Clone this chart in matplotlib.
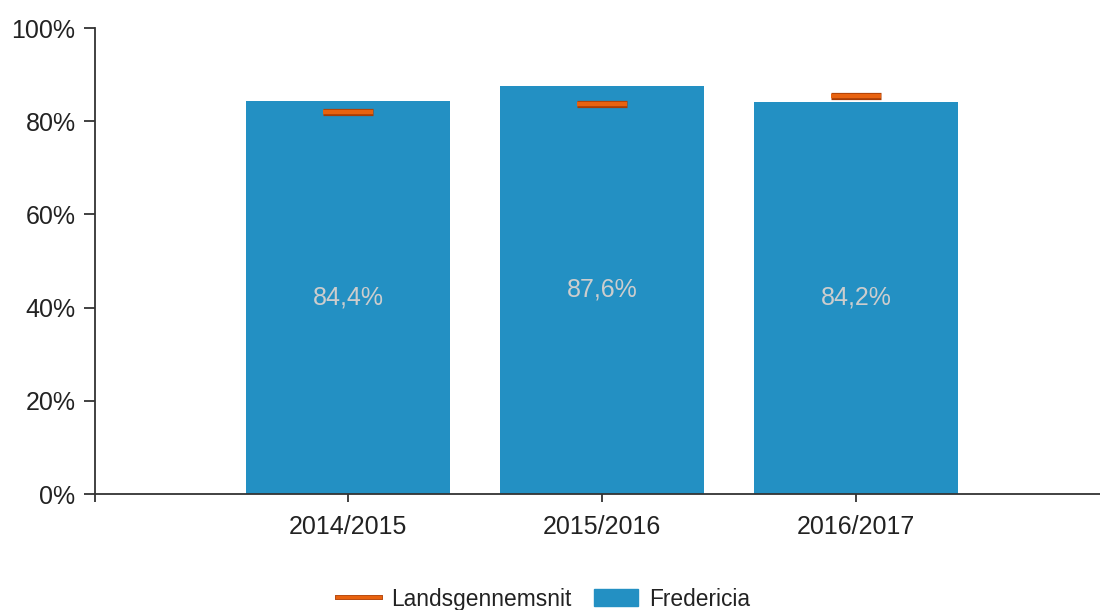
import matplotlib
matplotlib.use("Agg")
import matplotlib.pyplot as plt
import matplotlib.patheffects as pe
from matplotlib.lines import Line2D
from matplotlib.patches import Patch

categories = ["2014/2015", "2015/2016", "2016/2017"]
fredericia = [84.4, 87.6, 84.2]
landsgennemsnit = [81.9, 83.6, 85.4]
bar_labels = ["84,4%", "87,6%", "84,2%"]
yticks = [0, 20, 40, 60, 80, 100]
ytick_labels = ["0%", "20%", "40%", "60%", "80%", "100%"]

plt.rcParams['font.family'] = ['Liberation Sans', 'DejaVu Sans']

BLUE = "#2390c3"
ORANGE = "#e8620f"
DARK = "#a63c05"
TXT = "#222222"

fig = plt.figure(figsize=(11, 6.1), dpi=100)
ax = fig.add_axes([95/1100, (610-494)/610, 1005/1100, 466/610])

x = list(range(len(categories)))
ax.bar(x, fredericia, width=0.8, color=BLUE, zorder=2)

for xi, v, lab in zip(x, fredericia, bar_labels):
    ax.text(xi, v/2, lab, ha='center', va='center', color='#cdcdcd', fontsize=18, zorder=3)

hw = 0.098
for xi, v in zip(x, landsgennemsnit):
    ax.hlines(v, xi - hw, xi + hw, colors=ORANGE, linewidth=3.2, zorder=4,
              path_effects=[pe.Stroke(linewidth=5.2, foreground=DARK), pe.Normal()])

ax.set_xlim(-0.996, 2.96)
ax.set_ylim(0, 100)
ax.set_yticks(yticks)
ax.set_yticklabels(ytick_labels, fontsize=18, color=TXT)
ax.set_xticks(x)
ax.set_xticklabels(categories, fontsize=18, color=TXT)
ax.set_xticks([-0.996], minor=True)
ax.tick_params(axis='y', direction='out', length=8, width=1.3, color='#333333', pad=6)
ax.tick_params(axis='x', which='both', direction='out', length=6, width=1.3, color='#333333', pad=9)

for s in ['top', 'right']:
    ax.spines[s].set_visible(False)
for s in ['left', 'bottom']:
    ax.spines[s].set_color('#333333')
    ax.spines[s].set_linewidth(1.3)

handles = [Line2D([0], [0], color=ORANGE, linewidth=2.5,
                  path_effects=[pe.Stroke(linewidth=3.5, foreground=DARK), pe.Normal()]),
           Patch(facecolor=BLUE, edgecolor=BLUE)]
leg = fig.legend(handles, ["Landsgennemsnit", "Fredericia"], loc='center',
                 bbox_to_anchor=(0.494, 0.018), ncol=2, frameon=False, fontsize=16.4,
                 handlelength=1.9, handleheight=0.75, columnspacing=1.0, handletextpad=0.5)
for t in leg.get_texts():
    t.set_color(TXT)

fig.savefig("out.png", dpi=100)
